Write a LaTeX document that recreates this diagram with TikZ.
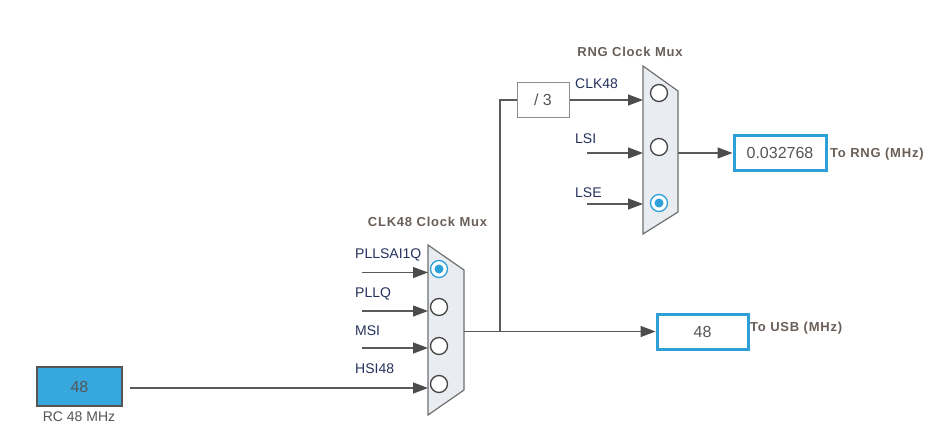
\documentclass[tikz,border=0pt]{standalone}
\usepackage{fontspec}
\setmainfont{Liberation Sans}
\usetikzlibrary{arrows.meta}
\definecolor{lbl}{HTML}{26325E}
\definecolor{ttl}{HTML}{6A5F58}
\definecolor{val}{HTML}{555555}
\definecolor{wire}{HTML}{5A5A5A}
\definecolor{boxblue}{HTML}{2EA0D8}
\definecolor{rcfill}{HTML}{36A8DD}
\definecolor{muxfill}{HTML}{E9EDF1}
\definecolor{muxdraw}{HTML}{707070}
\tikzset{
  wireline/.style={draw=wire, line width=1.2pt},
  arr/.style={wireline, -{Triangle[length=15pt,width=11pt,color=wire!85!black]}},
  muxshape/.style={fill=muxfill, draw=muxdraw, line width=1.2pt},
  radio/.style={circle, draw=val!80!black, fill=white, line width=1.3pt, minimum size=17pt, inner sep=0pt},
  radiosel/.style={circle, draw=boxblue, fill=white, line width=1.3pt, minimum size=17pt, inner sep=0pt,
    path picture={\fill[boxblue] (path picture bounding box.center) circle (4.5pt);}},
  lbltxt/.style={text=lbl, font=\fontsize{14}{16}\selectfont, inner sep=0pt, text height=10pt, text depth=0pt, anchor=west},
  ttltxt/.style={text=ttl, font=\fontsize{13}{15}\bfseries\addfontfeatures{LetterSpace=6}, inner sep=0pt},
  outtxt/.style={text=ttl, font=\fontsize{13}{15}\bfseries\addfontfeatures{LetterSpace=6}, inner sep=0pt, text height=9.5pt, text depth=0pt, anchor=west},
  valbox/.style={draw=boxblue, line width=3pt, fill=white, text=val, font=\fontsize{16}{18}\selectfont, inner sep=0pt},
  divbox/.style={draw=muxdraw!80, line width=1pt, fill=white, text=val, font=\fontsize{16}{18}\selectfont, inner sep=0pt, minimum width=52pt, minimum height=35pt},
}
\begin{document}
\begin{tikzpicture}[x=1pt,y=-1pt]
\useasboundingbox[fill=white] (0,0) rectangle (940,434);

% ---- CLK48 mux ----
\draw[muxshape] (428,245) -- (464,270) -- (464,390) -- (428,415) -- cycle;
\node[radiosel] (k1) at (439,269) {};
\node[radio] (k2) at (439,307) {};
\node[radio] (k3) at (439,346) {};
\node[radio] (k4) at (439,384) {};
\node[ttltxt] (t1) at (427.5,222) {CLK48 Clock Mux};

\node[lbltxt] (l1) at (355,253) {PLLSAI1Q};
\node[lbltxt] (l2) at (355,292) {PLLQ};
\node[lbltxt] (l3) at (355,330) {MSI};
\node[lbltxt] (l4) at (355,368) {HSI48};

\coordinate (a1s) at (362,272.5);
\coordinate (a1e) at (428,272.5);
\coordinate (a2s) at (362,311);
\coordinate (a2e) at (428,311);
\coordinate (a3s) at (362,348);
\coordinate (a3e) at (428,348);
\coordinate (a4s) at (130,388);
\coordinate (a4e) at (428,388);
\draw[arr] (a1s) -- (a1e);
\draw[arr] (a2s) -- (a2e);
\draw[arr] (a3s) -- (a3e);
\draw[arr] (a4s) -- (a4e);

% ---- RC source ----
\node[draw=val, line width=1.5pt, fill=rcfill, text=val, font=\fontsize{16}{18}\selectfont,
  minimum width=85pt, minimum height=39pt, inner sep=0pt] (rc) at (79.5,386.5) {48};
\node[text=val, font=\fontsize{14}{16}\selectfont, inner sep=0pt, text height=10pt, text depth=0pt] (rcl) at (79,416) {RC 48 MHz};

% ---- CLK48 output ----
\coordinate (k_out) at (464,331.5);
\coordinate (junc) at (500,331.5);
\coordinate (jtop) at (500,100);
\node[valbox, minimum width=91pt, minimum height=35pt] (usb) at (702.5,331.5) {48};
\node[outtxt] (usbl) at (750,327) {To USB (MHz)};
\draw[wireline] (k_out) -- (junc);
\draw[arr] (junc) -- (usb.west);

% ---- divider ----
\node[divbox] (div) at (543,100) {/ 3};
\draw[wireline] (junc) -- (jtop) -- (div.west);

% ---- RNG mux ----
\draw[muxshape] (643,66) -- (678,91) -- (678,212) -- (643,234) -- cycle;
\node[radio] (r1) at (659,93) {};
\node[radio] (r2) at (659,147) {};
\node[radiosel] (r3) at (659,203) {};
\node[ttltxt] (t2) at (630,52) {RNG Clock Mux};

\node[lbltxt] (m1) at (575,83) {CLK48};
\node[lbltxt] (m2) at (575,138) {LSI};
\node[lbltxt] (m3) at (575,192) {LSE};

\coordinate (b1e) at (643,100);
\coordinate (b2s) at (587,153);
\coordinate (b2e) at (643,153);
\coordinate (b3s) at (587,204);
\coordinate (b3e) at (643,204);
\draw[arr] (div.east) -- (b1e);
\draw[arr] (b2s) -- (b2e);
\draw[arr] (b3s) -- (b3e);

% ---- RNG output ----
\coordinate (r_out) at (678,153);
\node[valbox, minimum width=92pt, minimum height=35pt] (rng) at (780,153) {0.032768};
\node[outtxt] (rngl) at (830,153) {To RNG (MHz)};
\draw[arr] (r_out) -- (rng.west);
\end{tikzpicture}
\end{document}
